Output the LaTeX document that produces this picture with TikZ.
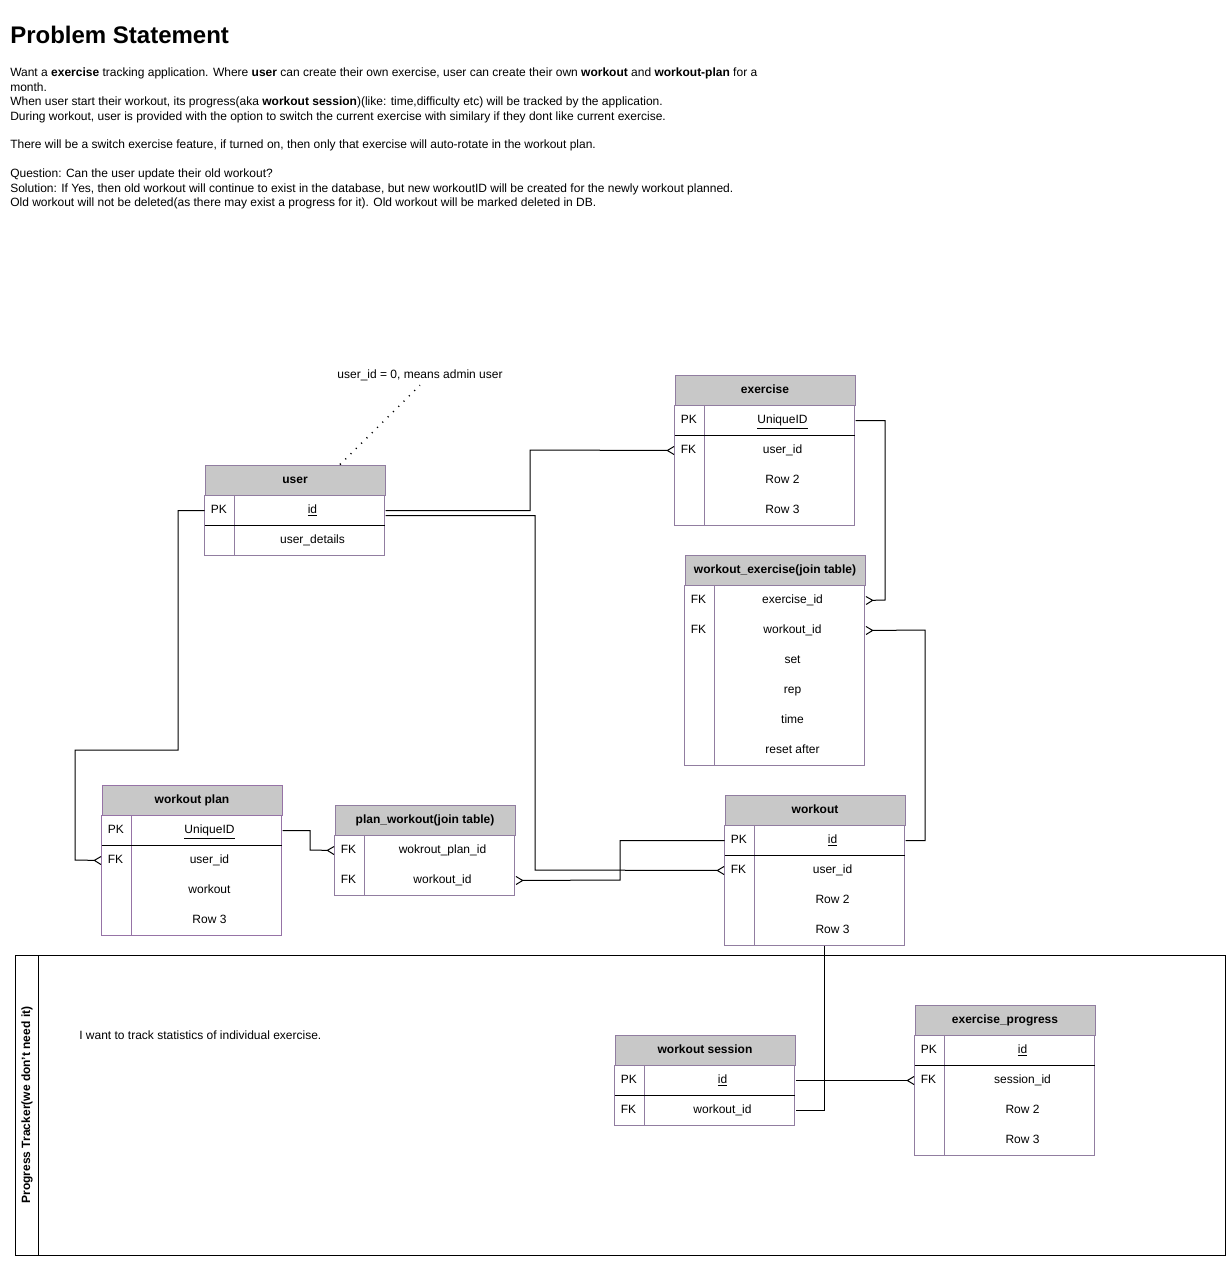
\documentclass[tikz,border=0pt]{standalone}
\usepackage{fontspec}
\setmainfont{Liberation Sans}
\usetikzlibrary{arrows.meta, positioning, calc}
\definecolor{erline}{RGB}{145,125,160}
\definecolor{planline}{HTML}{9673A6}
\definecolor{hdrgray}{RGB}{200,200,200}

\begin{document}
\begin{tikzpicture}[
        x=0.75pt, y=-0.75pt,
        font=\fontsize{9}{10.8}\selectfont,
        hdr/.style={rectangle, draw=erline, line width=0.75pt, fill=hdrgray, minimum width=135pt, minimum height=22.5pt, inner sep=0pt, text height=6.6pt, text depth=1.9pt, font=\fontsize{9}{10.8}\selectfont\bfseries},
        keycell/.style={anchor=west, inner xsep=4.5pt, inner ysep=0pt, text height=6.6pt, text depth=1.9pt},
        fldcell/.style={inner sep=0pt, text height=6.6pt, text depth=1.9pt},
        tbl/.style={draw=erline, line width=0.75pt},
        pksep/.style={draw=black, line width=0.75pt},
        rel/.style={draw, line width=0.75pt},
        many/.style={rel, -{Straight Barb[reversed, length=5pt, width=6pt]}},
        notelink/.style={draw, line width=1.1pt, dash pattern=on 0.8pt off 4.8pt}
        ]

        \useasboundingbox (0,0) rectangle (1231,1261);
        \fill[white] (0,0) rectangle (1231,1261);

        % Problem statement
        \node[anchor=base west, inner sep=0pt, font=\fontsize{18}{21.6}\selectfont\bfseries] (title) at (10,43) {Problem Statement};
        \node[anchor=north west, inner sep=0pt, align=left] (statement) at (10,68) {Want a \textbf{exercise} tracking application. Where \textbf{user} can create their own exercise, user can create their own \textbf{workout} and \textbf{workout-plan} for a\\
        month.\\
        When user start their workout, its progress(aka \textbf{workout session})(like: time,difficulty etc) will be tracked by the application.\\
        During workout, user is provided with the option to switch the current exercise with similary if they dont like current exercise.\\[10.8pt]
        There will be a switch exercise feature, if turned on, then only that exercise will auto-rotate in the workout plan.\\[10.8pt]
        Question: Can the user update their old workout?\\
        Solution: If Yes, then old workout will continue to exist in the database, but new workoutID will be created for the newly workout planned.\\
        Old workout will not be deleted(as there may exist a progress for it). Old workout will be marked deleted in DB.};

        % Progress tracker lane
        \draw[line width=0.75pt] (15,955) rectangle (1225,1255);
        \draw[line width=0.75pt] (38,955) -- (38,1255);
        \node[rotate=90, font=\fontsize{9}{10.8}\selectfont\bfseries] (lanelbl) at (27,1105) {Progress Tracker(we don't need it)};
        \node[anchor=west, inner sep=0pt] (statnote) at (79,1035) {I want to track statistics of individual exercise.};

        % Tables
        \node[hdr] (user) at (295,480) {user};
        \foreach \k/\f [count=\i] in {PK/\underline{id}, /user\_details}{
            \node[keycell] (user-k\i) at ($(user.south west)+(0,30*\i-15)$) {\k};
            \node[fldcell] (user-f\i) at ($(user.south west)+(108,30*\i-15)$) {\f};
        }

        \node[hdr] (exer) at (765,390) {exercise};
        \foreach \k/\f [count=\i] in {PK/\underline{UniqueID}, FK/user\_id, /Row 2, /Row 3}{
            \node[keycell] (exer-k\i) at ($(exer.south west)+(0,30*\i-15)$) {\k};
            \node[fldcell] (exer-f\i) at ($(exer.south west)+(108,30*\i-15)$) {\f};
        }

        \node[hdr] (wex) at (775,570) {workout\_exercise(join table)};
        \foreach \k/\f [count=\i] in {FK/exercise\_id, FK/workout\_id, /set, /rep, /time, /reset after}{
            \node[keycell] (wex-k\i) at ($(wex.south west)+(0,30*\i-15)$) {\k};
            \node[fldcell] (wex-f\i) at ($(wex.south west)+(108,30*\i-15)$) {\f};
        }

        \node[hdr, draw=planline] (plan) at (192,800) {workout plan};
        \foreach \k/\f [count=\i] in {PK/\underline{UniqueID}, FK/user\_id, /workout, /Row 3}{
            \node[keycell] (plan-k\i) at ($(plan.south west)+(0,30*\i-15)$) {\k};
            \node[fldcell] (plan-f\i) at ($(plan.south west)+(108,30*\i-15)$) {\f};
        }

        \node[hdr] (pw) at (425,820) {plan\_workout(join table)};
        \foreach \k/\f [count=\i] in {FK/wokrout\_plan\_id, FK/workout\_id}{
            \node[keycell] (pw-k\i) at ($(pw.south west)+(0,30*\i-15)$) {\k};
            \node[fldcell] (pw-f\i) at ($(pw.south west)+(108,30*\i-15)$) {\f};
        }

        \node[hdr] (wk) at (815,810) {workout};
        \foreach \k/\f [count=\i] in {PK/\underline{id}, FK/user\_id, /Row 2, /Row 3}{
            \node[keycell] (wk-k\i) at ($(wk.south west)+(0,30*\i-15)$) {\k};
            \node[fldcell] (wk-f\i) at ($(wk.south west)+(108,30*\i-15)$) {\f};
        }

        \node[hdr] (ses) at (705,1050) {workout session};
        \foreach \k/\f [count=\i] in {PK/\underline{id}, FK/workout\_id}{
            \node[keycell] (ses-k\i) at ($(ses.south west)+(0,30*\i-15)$) {\k};
            \node[fldcell] (ses-f\i) at ($(ses.south west)+(108,30*\i-15)$) {\f};
        }

        \node[hdr] (ep) at (1005,1020) {exercise\_progress};
        \foreach \k/\f [count=\i] in {PK/\underline{id}, FK/session\_id, /Row 2, /Row 3}{
            \node[keycell] (ep-k\i) at ($(ep.south west)+(0,30*\i-15)$) {\k};
            \node[fldcell] (ep-f\i) at ($(ep.south west)+(108,30*\i-15)$) {\f};
        }

        % Table borders
        \foreach \t/\n in {user/2, exer/4, wex/6, pw/2, wk/4, ses/2, ep/4}{
            \draw[tbl] (\t.south west) rectangle ++(180,30*\n);
            \draw[tbl] ($(\t.south west)+(30,0)$) -- ++(0,30*\n);
        }
        \draw[tbl, draw=planline] (plan.south west) rectangle ++(180,120);
        \draw[tbl, draw=planline] ($(plan.south west)+(30,0)$) -- ++(0,120);
        \foreach \t in {user, exer, plan, wk, ses, ep}
            \draw[pksep] ($(\t.south west)+(0,30)$) -- ++(180,0);

        % Note
        \node (adminnote) at (420,375) {user\_id = 0, means admin user};
        \draw[notelink] ([xshift=33.75pt]user.north) -- (adminnote.south);

        % Relations
        \draw[many] (user-f1.east -| user.east) -| (530,450) -- (exer-k2.west);
        \draw[many] ([yshift=-3.75pt]user-f1.east -| user.east) -| (535,870) -- (wk-k2.west);
        \draw[many] (user-k1.west) -| (178,750) -| (75,860) -- (plan-k2.west);
        \draw[many] (exer-f1.east -| exer.east) -| (885,600) -- (wex-f1.east -| wex.east);
        \draw[many] (wk-f1.east -| wk.east) -| (925,630) -- (wex-f2.east -| wex.east);
        \draw[many] (plan-f1.east -| plan.east) -| (310,850) -- (pw-k1.west);
        \draw[many] (wk-k1.west) -| (620,880) -- (pw-f2.east -| pw.east);
        \draw[rel] ($(wk.south west)+(100,120)$) |- ($(ses.south east)+(0,45)$);
        \draw[many] (ses-f1.east -| ses.east) -- (ep-k2.west);

    \end{tikzpicture}
\end{document}
